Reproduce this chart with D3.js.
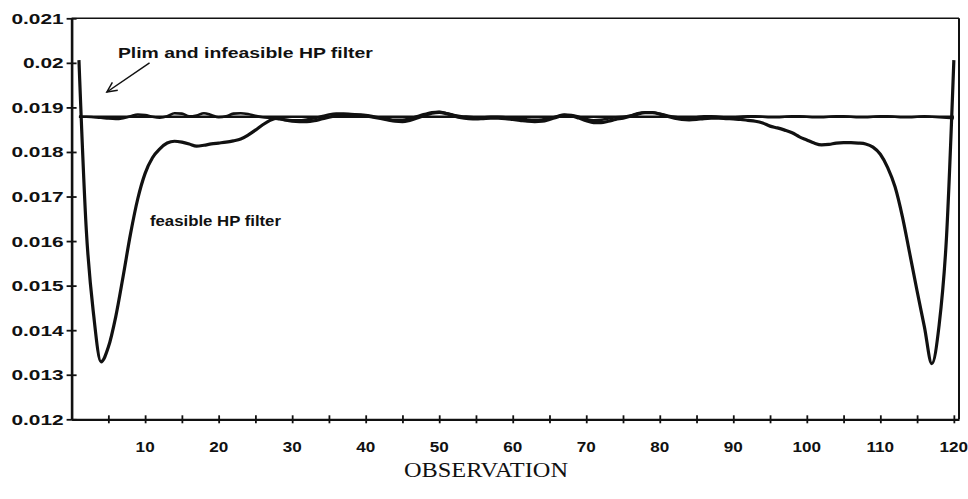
<!DOCTYPE html>
<html><head><meta charset="utf-8">
<script src="https://cdn.jsdelivr.net/npm/d3@7"></script>
<style>html,body{margin:0;padding:0;background:#fff;} svg{display:block;}</style>
</head><body>
<svg id="chart" width="968" height="499"></svg>
<script>
// ---- data ----
const feasibleHP = [
  0.02006,0.01625,0.01434,0.01329,0.01362,0.01430,0.01520,0.01615,0.01695,0.01752,
  0.01787,0.01807,0.01820,0.01824,0.01822,0.01818,0.01813,0.01815,0.01818,0.01820,
  0.01822,0.01825,0.01829,0.01838,0.01849,0.01861,0.01871,0.01876,0.01872,0.01869,
  0.01868,0.01868,0.01870,0.01874,0.01878,0.01881,0.01883,0.01884,0.01883,0.01881,
  0.01878,0.01875,0.01872,0.01869,0.01868,0.01871,0.01876,0.01882,0.01887,0.01889,
  0.01886,0.01881,0.01877,0.01875,0.01874,0.01875,0.01876,0.01876,0.01875,0.01873,
  0.01871,0.01869,0.01868,0.01869,0.01873,0.01878,0.01882,0.01881,0.01876,0.01870,
  0.01866,0.01866,0.01869,0.01873,0.01876,0.01880,0.01885,0.01888,0.01888,0.01885,
  0.01880,0.01876,0.01873,0.01872,0.01873,0.01875,0.01876,0.01876,0.01875,0.01874,
  0.01873,0.01871,0.01869,0.01865,0.01858,0.01854,0.01849,0.01843,0.01834,0.01827,
  0.01820,0.01816,0.01817,0.01820,0.01821,0.01821,0.01820,0.01818,0.01811,0.01795,
  0.01765,0.01722,0.01655,0.01572,0.01488,0.01407,0.01325,0.01412,0.01609,0.02006
];
const infeasibleHP = [
  0.01879,0.01879,0.01878,0.01877,0.01875,0.01874,0.01876,0.01880,0.01884,0.01883,
  0.01879,0.01877,0.01880,0.01887,0.01886,0.01880,0.01882,0.01887,0.01883,0.01878,
  0.01880,0.01886,0.01887,0.01885,0.01881,0.01878,0.01876,0.01874,0.01872,0.01871,
  0.01871,0.01873,0.01876,0.01880,0.01884,0.01886,0.01886,0.01885,0.01884,0.01883,
  0.01880,0.01877,0.01874,0.01872,0.01872,0.01875,0.01880,0.01885,0.01889,0.01890,
  0.01887,0.01883,0.01880,0.01879,0.01878,0.01878,0.01879,0.01879,0.01878,0.01877,
  0.01875,0.01873,0.01872,0.01873,0.01876,0.01880,0.01884,0.01883,0.01879,0.01874,
  0.01871,0.01872,0.01875,0.01878,0.01879,0.01882,0.01887,0.01889,0.01889,0.01886,
  0.01882,0.01879,0.01877,0.01877,0.01878,0.01880,0.01880,0.01879,0.01878,0.01878,
  0.01879,0.01880,0.01880,0.01879,0.01878,0.01878,0.01879,0.01880,0.01880,0.01879,
  0.01878,0.01878,0.01879,0.01880,0.01880,0.01879,0.01878,0.01878,0.01879,0.01880,
  0.01880,0.01879,0.01878,0.01878,0.01879,0.01880,0.01879,0.01878,0.01877,0.01876
];
const plimObs = [1, 120];
const plimValues = [0.01879, 0.01879];

const xTickValues = [5,10,15,20,25,30,35,40,45,50,55,60,65,70,75,80,85,90,95,100,105,110,115,120];
const xLabelValues = [10,20,30,40,50,60,70,80,90,100,110,120];
const yTickValues = [0.012,0.013,0.014,0.015,0.016,0.017,0.018,0.019,0.020,0.021];
const yTickLabels = ["0.012","0.013","0.014","0.015","0.016","0.017","0.018","0.019","0.02","0.021"];

const xTitle = "OBSERVATION";
const topNote = "Plim and infeasible HP filter";
const feasNote = "feasible HP filter";
// annotation anchors in data units [observation, value]
const topNotePos = [6.3, 0.02011];
const feasNotePos = [10.66, 0.01634];
const arrowFrom = [10.6, 0.02000];
const arrowTo = [4.8, 0.019346];

// ---- layout ----
const svg = d3.select("#chart");
const x = d3.scaleLinear().domain([0, 120.7]).range([71.6, 959]);
const y = d3.scaleLinear().domain([0.012, 0.021]).range([419.3, 18.3]);
const bold = "'Liberation Sans', Arial, sans-serif";

// frame
svg.append("line").attr("x1", x(0)).attr("x2", x(120.7)).attr("y1", y(0.021)).attr("y2", y(0.021))
  .attr("stroke", "#111").attr("stroke-width", 1.6);
svg.append("line").attr("x1", x(120.7)).attr("x2", x(120.7)).attr("y1", y(0.021)).attr("y2", y(0.012))
  .attr("stroke", "#111").attr("stroke-width", 2);

// x axis with ticks crossing
const xAxis = d3.axisBottom(x).tickValues(xTickValues).tickSize(0).tickFormat("");
const gx = svg.append("g").attr("transform", `translate(0,${y(0.012)})`).call(xAxis);
gx.select(".domain").attr("stroke", "#111").attr("stroke-width", 2.2).attr("fill", "none");
gx.selectAll(".tick").append("line").attr("y1", -4).attr("y2", 4).attr("stroke", "#111").attr("stroke-width", 1.8);
svg.append("g").selectAll("text").data(xLabelValues).join("text")
  .attr("transform", d => `translate(${x(d)},452) scale(1.14,1)`)
  .attr("text-anchor", "middle")
  .style("font-family", bold).style("font-weight", "bold").style("font-size", "15px").style("fill", "#111")
  .text(d => String(d));

// y axis with ticks crossing
const yAxis = d3.axisLeft(y).tickValues(yTickValues).tickSize(0).tickFormat("");
const gy = svg.append("g").attr("transform", `translate(${x(0)},0)`).call(yAxis);
gy.select(".domain").attr("stroke", "#111").attr("stroke-width", 2.6).attr("fill", "none");
gy.selectAll(".tick").append("line").attr("x1", -5).attr("x2", 5).attr("stroke", "#111").attr("stroke-width", 1.8);
svg.append("g").selectAll("text").data(yTickValues).join("text")
  .attr("transform", d => `translate(${x(0) - 8},${y(d) + 5.5}) scale(1.39,1)`)
  .attr("text-anchor", "end")
  .style("font-family", bold).style("font-weight", "bold").style("font-size", "15px").style("fill", "#111")
  .text((d, i) => yTickLabels[i]);

// series
const smooth = d3.line().x((d, i) => x(i + 1)).y(d => y(d)).curve(d3.curveMonotoneX);
svg.append("path").datum(plimValues)
  .attr("d", d3.line().x((d, i) => x(plimObs[i])).y(d => y(d)))
  .attr("fill", "none").attr("stroke", "#111").attr("stroke-width", 2.4);
svg.append("path").datum(infeasibleHP).attr("d", smooth)
  .attr("fill", "none").attr("stroke", "#111").attr("stroke-width", 2.6).attr("stroke-linejoin", "round");
svg.append("path").datum(feasibleHP).attr("d", smooth)
  .attr("fill", "none").attr("stroke", "#111").attr("stroke-width", 3.2).attr("stroke-linejoin", "round");

// annotations
svg.append("text").attr("x", x(topNotePos[0])).attr("y", y(topNotePos[1]))
  .attr("textLength", 255).attr("lengthAdjust", "spacingAndGlyphs")
  .style("font-family", bold).style("font-weight", "bold").style("font-size", "14px").style("fill", "#111")
  .text(topNote);
svg.append("text").attr("x", x(feasNotePos[0])).attr("y", y(feasNotePos[1]))
  .attr("textLength", 131).attr("lengthAdjust", "spacingAndGlyphs")
  .style("font-family", bold).style("font-weight", "bold").style("font-size", "14px").style("fill", "#111")
  .text(feasNote);

// arrow
const ax1 = x(arrowFrom[0]), ay1 = y(arrowFrom[1]), ax2 = x(arrowTo[0]), ay2 = y(arrowTo[1]);
svg.append("line").attr("x1", ax1).attr("y1", ay1).attr("x2", ax2).attr("y2", ay2)
  .attr("stroke", "#111").attr("stroke-width", 1.5);
const ang = Math.atan2(ay1 - ay2, ax1 - ax2);
const hl = 11, spread = 0.45;
const head = [[ax2 + hl * Math.cos(ang - spread), ay2 + hl * Math.sin(ang - spread)], [ax2, ay2],
              [ax2 + hl * Math.cos(ang + spread), ay2 + hl * Math.sin(ang + spread)]];
svg.append("path").attr("d", d3.line()(head)).attr("fill", "none")
  .attr("stroke", "#111").attr("stroke-width", 1.5).attr("stroke-linejoin", "miter");

// x title
svg.append("text")
  .attr("transform", "translate(486,477) scale(1.16,1)")
  .attr("text-anchor", "middle")
  .style("font-family", "'Liberation Serif', 'Times New Roman', serif").style("font-size", "21px").style("fill", "#111")
  .text(xTitle);
</script>
</body></html>
